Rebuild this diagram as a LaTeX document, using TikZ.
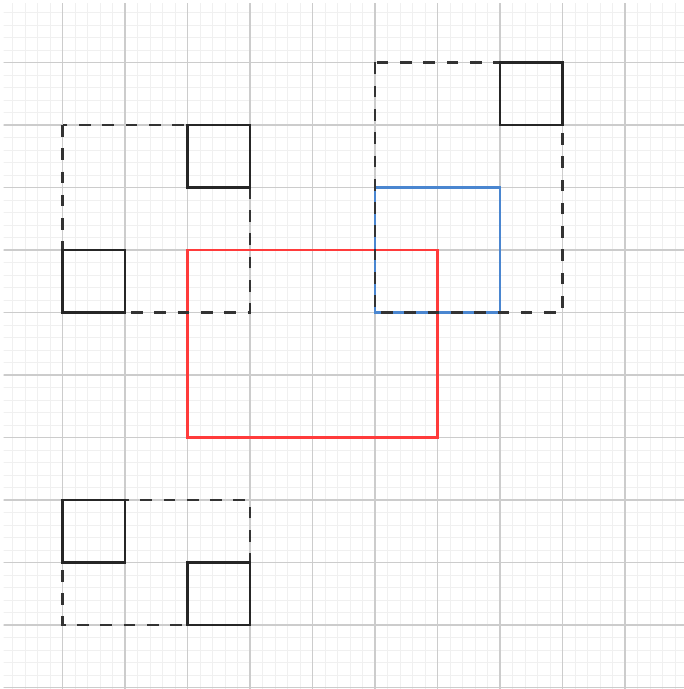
\documentclass[tikz,border=0pt]{standalone}
\usepackage{tikz}
\definecolor{minorgrid}{HTML}{F0F0F0}
\definecolor{majorgrid}{HTML}{CCCCCC}
\definecolor{redbox}{HTML}{FF3B3B}
\definecolor{bluebox}{HTML}{4A86D0}
\definecolor{darkline}{HTML}{262626}
\definecolor{dashline}{HTML}{333333}
\tikzset{
  minorgridline/.style={draw=minorgrid, line width=0.4pt},
  majorgridline/.style={draw=majorgrid, line width=0.5pt},
  dashbox/.style={draw=dashline, line width=1.2pt, dash pattern=on 5.3pt off 5.3pt},
  solidbox/.style={draw=darkline, line width=1.2pt},
  redrect/.style={draw=redbox, line width=1.1pt},
  bluerect/.style={draw=bluebox, line width=1.1pt}
}
\begin{document}
\begin{tikzpicture}[yscale=-1]
\useasboundingbox (0,0) rectangle (10.944,11.024);
\begin{scope}
\clip (0.06,0.06) rectangle (10.944,11.024);
\draw[minorgridline, step=0.2] (0,0) grid (10.944,11.024);
\draw[majorgridline, step=1] (0,0) grid (10.944,11.024);
\end{scope}
% red and blue rectangles
\draw[redrect] (3,4) rectangle (7,7);
\draw[bluerect] (6,3) rectangle (8,5);
% dashed groups
\draw[dashbox] (1,2) rectangle (4,5);
\draw[dashbox] (6,1) rectangle (9,5);
\draw[dashbox] (1,8) rectangle (4,10);
% solid squares
\draw[solidbox] (3,2) rectangle (4,3);
\draw[solidbox] (1,4) rectangle (2,5);
\draw[solidbox] (8,1) rectangle (9,2);
\draw[solidbox] (1,8) rectangle (2,9);
\draw[solidbox] (3,9) rectangle (4,10);
\end{tikzpicture}
\end{document}
